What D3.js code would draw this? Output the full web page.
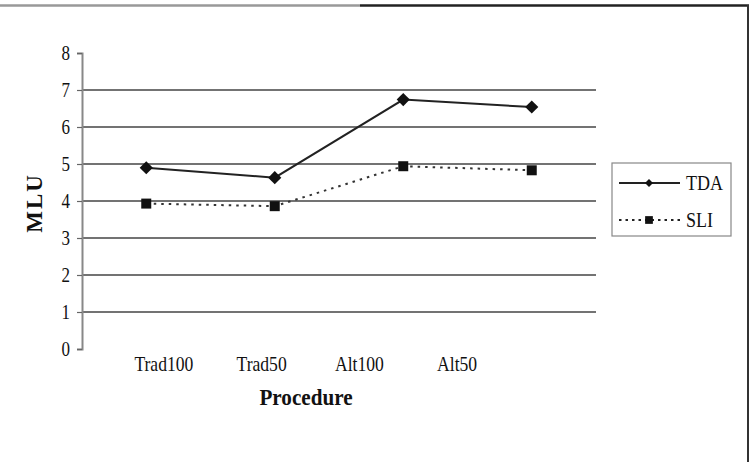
<!DOCTYPE html>
<html>
<head>
<meta charset="utf-8">
<script src="https://cdn.jsdelivr.net/npm/d3@7"></script>
<style>
  body { margin: 0; background: #fff; }
  svg { display: block; font-family: "Liberation Serif", "DejaVu Serif", serif; }
</style>
</head>
<body>
<script>
// 数据
const categories = ['Trad100', 'Trad50', 'Alt100', 'Alt50'];
const tdaValues = [4.90, 4.63, 6.74, 6.54];
const sliValues = [3.93, 3.86, 4.94, 4.83];
const yTicks = [0, 1, 2, 3, 4, 5, 6, 7, 8];
const seriesNames = ['TDA', 'SLI'];

const width = 752, height = 462;
const svg = d3.select('body').append('svg')
    .attr('width', width)
    .attr('height', height);

// 外框（顶部与右侧）
svg.append('line')
    .attr('x1', 0).attr('x2', 360).attr('y1', 5.5).attr('y2', 5.5)
    .attr('stroke', '#999').attr('stroke-width', 2.5);
svg.append('line')
    .attr('x1', 360).attr('x2', 749).attr('y1', 5.5).attr('y2', 5.5)
    .attr('stroke', '#222').attr('stroke-width', 2.5);
svg.append('line')
    .attr('x1', 748).attr('x2', 748).attr('y1', 5).attr('y2', height)
    .attr('stroke', '#333').attr('stroke-width', 2);

// 比例尺
const x = d3.scaleBand().domain(categories).range([82, 596]);
const xLabel = d3.scaleBand().domain(categories).range([115, 506]);
const y = d3.scaleLinear().domain([0, 8]).range([349, 53]);
const cx = d => x(d) + x.bandwidth() / 2;

// 网格线
svg.append('g')
    .selectAll('line')
    .data(yTicks.filter(t => t > 0 && t < 8))
    .enter()
    .append('line')
    .attr('x1', 82).attr('x2', 596)
    .attr('y1', d => y(d)).attr('y2', d => y(d))
    .attr('stroke', '#444')
    .attr('stroke-width', 1.5);

// Y 轴
const yAxis = svg.append('g')
    .attr('transform', 'translate(82,0)')
    .call(d3.axisLeft(y).tickValues(yTicks).tickSize(5).tickPadding(9).tickFormat(d3.format('d')));
yAxis.select('.domain').attr('stroke', '#888').attr('stroke-width', 2);
yAxis.selectAll('.tick line').attr('stroke', '#666').attr('stroke-width', 1.2);
yAxis.selectAll('.tick text')
    .attr('fill', '#111')
    .attr('transform', 'scale(0.85,1)')
    .style('font-family', '"Liberation Serif", serif')
    .style('font-size', '20px');

// X 轴标签
const xAxis = svg.append('g')
    .attr('transform', 'translate(0,353)')
    .call(d3.axisBottom(xLabel).tickSize(0).tickPadding(4));
xAxis.select('.domain').remove();
xAxis.selectAll('.tick text')
    .attr('fill', '#111')
    .attr('transform', 'scale(0.88,1)')
    .style('font-family', '"Liberation Serif", serif')
    .style('font-size', '20px');

// 轴标题
svg.append('text')
    .attr('transform', 'translate(306,405) scale(0.92,1)')
    .attr('text-anchor', 'middle')
    .style('font-size', '23px')
    .style('font-weight', 'bold')
    .attr('fill', '#111')
    .text('Procedure');
svg.append('text')
    .attr('transform', 'translate(42,203) rotate(-90)')
    .attr('text-anchor', 'middle')
    .style('font-size', '23px')
    .style('font-weight', 'bold')
    .style('letter-spacing', '2px')
    .attr('fill', '#111')
    .text('MLU');

// 折线
const line = d3.line().x((d, i) => cx(categories[i])).y(d => y(d));
svg.append('path')
    .attr('d', line(tdaValues))
    .attr('fill', 'none')
    .attr('stroke', '#222')
    .attr('stroke-width', 2);
svg.append('path')
    .attr('d', line(sliValues))
    .attr('fill', 'none')
    .attr('stroke', '#333')
    .attr('stroke-width', 2)
    .attr('stroke-dasharray', '2.5,5');

// 标记
svg.append('g')
    .selectAll('path')
    .data(tdaValues)
    .enter()
    .append('path')
    .attr('transform', (d, i) => `translate(${cx(categories[i])},${y(d)})`)
    .attr('d', d3.symbol(d3.symbolDiamond2, 110)())
    .attr('fill', '#111');
svg.append('g')
    .selectAll('path')
    .data(sliValues)
    .enter()
    .append('path')
    .attr('transform', (d, i) => `translate(${cx(categories[i])},${y(d)})`)
    .attr('d', d3.symbol(d3.symbolSquare, 100)())
    .attr('fill', '#111');

// 图例
const legend = svg.append('g');
legend.append('rect')
    .attr('x', 612).attr('y', 163).attr('width', 119).attr('height', 73)
    .attr('fill', '#fff').attr('stroke', '#888').attr('stroke-width', 1.2);
const legendRows = [
    {name: seriesNames[0], y: 183, dash: null, sym: d3.symbolDiamond2, size: 40},
    {name: seriesNames[1], y: 220, dash: '2.5,4', sym: d3.symbolSquare, size: 60}
];
legendRows.forEach(r => {
    legend.append('line')
        .attr('x1', 619).attr('x2', 680).attr('y1', r.y).attr('y2', r.y)
        .attr('stroke', '#222').attr('stroke-width', 1.8)
        .attr('stroke-dasharray', r.dash);
    legend.append('path')
        .attr('transform', `translate(649,${r.y})`)
        .attr('d', d3.symbol(r.sym, r.size)())
        .attr('fill', '#111');
    legend.append('text')
        .attr('transform', `translate(686,${r.y + 7}) scale(0.9,1)`)
        .style('font-size', '20px')
        .attr('fill', '#111')
        .text(r.name);
});
</script>
</body>
</html>
